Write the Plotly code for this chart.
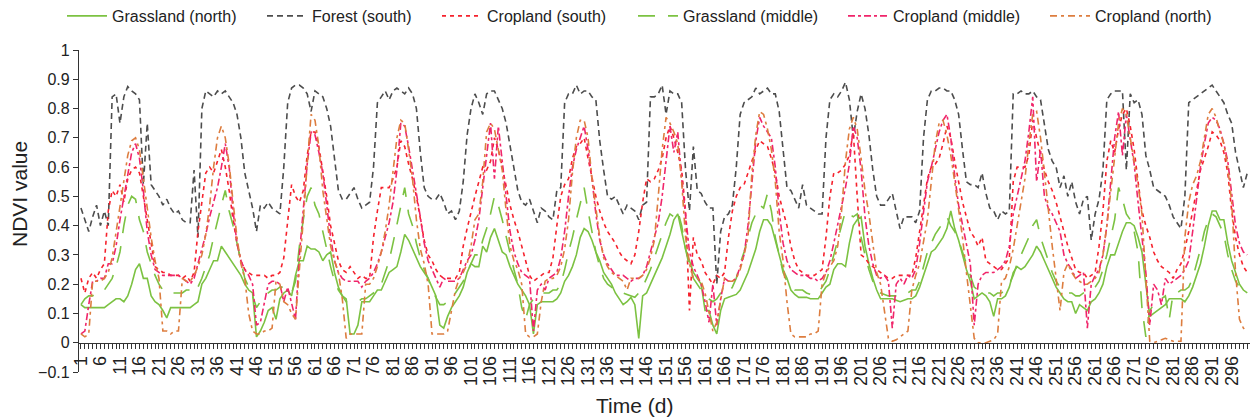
import plotly.graph_objects as go

forest_south = [
    0.46, 0.42, 0.38, 0.43, 0.47, 0.40, 0.45, 0.40, 0.84, 0.85,
    0.75, 0.84, 0.875, 0.86, 0.85, 0.83, 0.54, 0.75, 0.54, 0.52,
    0.50, 0.47, 0.49, 0.46, 0.44, 0.45, 0.42, 0.41, 0.41, 0.59,
    0.36, 0.80, 0.86, 0.85, 0.84, 0.86, 0.85, 0.86, 0.84, 0.82,
    0.78, 0.70, 0.58, 0.52, 0.46, 0.38, 0.47, 0.46, 0.48, 0.46,
    0.45, 0.44, 0.60, 0.82, 0.87, 0.88, 0.88, 0.87, 0.85, 0.79,
    0.86, 0.85, 0.84, 0.80, 0.74, 0.63, 0.52, 0.49, 0.49, 0.51,
    0.53, 0.49, 0.46, 0.47, 0.48, 0.60, 0.82, 0.84, 0.86, 0.83,
    0.86, 0.87, 0.86, 0.85, 0.87, 0.85, 0.80, 0.65, 0.53, 0.50,
    0.49, 0.49, 0.51, 0.48, 0.44, 0.45, 0.42, 0.45, 0.55, 0.71,
    0.80, 0.85, 0.82, 0.78, 0.85, 0.86, 0.86, 0.83, 0.80, 0.75,
    0.67, 0.59, 0.52, 0.48, 0.47, 0.49, 0.45, 0.41, 0.46, 0.45,
    0.43, 0.42, 0.52, 0.53, 0.82, 0.85, 0.85, 0.88, 0.85, 0.86,
    0.86, 0.84, 0.83, 0.69, 0.59, 0.50, 0.49, 0.50, 0.47, 0.44,
    0.47, 0.46, 0.45, 0.42, 0.47, 0.48, 0.84, 0.84, 0.85, 0.88,
    0.78, 0.86, 0.85, 0.85, 0.82, 0.59, 0.45, 0.67, 0.52, 0.51,
    0.48, 0.46, 0.46, 0.20, 0.38, 0.43, 0.44, 0.47, 0.60, 0.78,
    0.82, 0.83, 0.84, 0.87, 0.85, 0.86, 0.87, 0.85, 0.85, 0.79,
    0.67, 0.53, 0.52, 0.49, 0.46, 0.54, 0.47, 0.46, 0.45, 0.44,
    0.44, 0.70, 0.83, 0.85, 0.84, 0.86, 0.89, 0.83, 0.70, 0.79,
    0.85, 0.80, 0.71, 0.59, 0.50, 0.47, 0.47, 0.49, 0.51, 0.45,
    0.39, 0.43, 0.43, 0.43, 0.41, 0.45, 0.70, 0.83, 0.86, 0.86,
    0.87, 0.87, 0.86, 0.86, 0.83, 0.78, 0.66, 0.55, 0.54, 0.54,
    0.53, 0.58, 0.51, 0.46, 0.45, 0.42, 0.45, 0.44, 0.45, 0.85,
    0.85, 0.86, 0.85, 0.85, 0.86, 0.84, 0.83, 0.75, 0.66, 0.62,
    0.60, 0.53, 0.57, 0.50, 0.55, 0.48, 0.44, 0.49, 0.50, 0.35,
    0.44, 0.49, 0.59, 0.83, 0.85, 0.86, 0.86, 0.86, 0.59, 0.85,
    0.82, 0.83, 0.78, 0.64, 0.59, 0.53, 0.52, 0.51, 0.50, 0.47,
    0.43, 0.41, 0.39, 0.50, 0.82, 0.83, 0.84, 0.85, 0.86, 0.87,
    0.88, 0.86, 0.84, 0.82, 0.78, 0.75, 0.65, 0.59, 0.53, 0.58,
]

grassland_north = [
    0.13, 0.12, 0.12, 0.12, 0.12, 0.12, 0.12, 0.13, 0.14, 0.15,
    0.15, 0.14, 0.16, 0.20, 0.25, 0.27, 0.22, 0.22, 0.16, 0.14,
    0.13, 0.11, 0.085, 0.12, 0.12, 0.12, 0.12, 0.12, 0.12, 0.13,
    0.14, 0.20, 0.22, 0.25, 0.28, 0.28, 0.33, 0.31, 0.29, 0.27,
    0.25, 0.23, 0.20, 0.18, 0.17, 0.02, 0.04, 0.07, 0.11, 0.12,
    0.08, 0.15, 0.17, 0.18, 0.16, 0.23, 0.28, 0.28, 0.33, 0.32,
    0.32, 0.31, 0.28, 0.30, 0.31, 0.24, 0.19, 0.16, 0.15, 0.03,
    0.03, 0.06, 0.14, 0.14, 0.14, 0.16, 0.18, 0.18, 0.21, 0.24,
    0.25, 0.26, 0.31, 0.37, 0.35, 0.32, 0.29, 0.26, 0.24, 0.22,
    0.19, 0.16, 0.06, 0.05, 0.09, 0.12, 0.14, 0.16, 0.19, 0.24,
    0.27, 0.26, 0.26, 0.33, 0.31, 0.36, 0.39, 0.35, 0.31, 0.30,
    0.26, 0.23, 0.20, 0.18, 0.16, 0.13, 0.03, 0.13, 0.14, 0.14,
    0.14, 0.14, 0.15, 0.17, 0.21, 0.23, 0.26, 0.30, 0.36, 0.39,
    0.38, 0.35, 0.31, 0.28, 0.24, 0.22, 0.20, 0.17, 0.15, 0.13,
    0.14, 0.155, 0.13, 0.015, 0.16, 0.17, 0.20, 0.23, 0.26, 0.29,
    0.33, 0.37, 0.42, 0.44, 0.38, 0.32, 0.28, 0.24, 0.22, 0.20,
    0.11, 0.11, 0.06, 0.03, 0.11, 0.15, 0.155, 0.16, 0.165, 0.18,
    0.21, 0.24, 0.28, 0.32, 0.38, 0.42, 0.42, 0.40, 0.35, 0.30,
    0.25, 0.22, 0.18, 0.165, 0.155, 0.155, 0.155, 0.15, 0.15, 0.15,
    0.17, 0.19, 0.20, 0.25, 0.27, 0.27, 0.26, 0.34, 0.40, 0.42,
    0.43, 0.33, 0.27, 0.22, 0.18, 0.15, 0.15, 0.15, 0.15, 0.145,
    0.14, 0.145, 0.15, 0.15, 0.16, 0.19, 0.23, 0.27, 0.31, 0.32,
    0.34, 0.36, 0.39, 0.45, 0.39, 0.35, 0.30, 0.25, 0.21, 0.15,
    0.16, 0.17, 0.16, 0.14, 0.09, 0.15, 0.15, 0.16, 0.19, 0.24,
    0.26, 0.25, 0.26, 0.28, 0.30, 0.33, 0.31, 0.28, 0.25, 0.22,
    0.19, 0.17, 0.15, 0.14, 0.14, 0.10, 0.13, 0.12, 0.11, 0.14,
    0.15, 0.17, 0.20, 0.26, 0.30, 0.30, 0.34, 0.38, 0.41, 0.41,
    0.40, 0.36, 0.31, 0.20, 0.09, 0.10, 0.11, 0.12, 0.13, 0.15,
    0.15, 0.15, 0.15, 0.14, 0.16, 0.19, 0.23, 0.27, 0.33, 0.40,
    0.45, 0.45, 0.42, 0.42, 0.34, 0.28, 0.24, 0.20, 0.18, 0.17,
]

grassland_middle = [
    0.13, 0.15, 0.16, 0.16, 0.17, 0.18, 0.18, 0.20, 0.22, 0.26,
    0.31, 0.40, 0.47, 0.50, 0.49, 0.42, 0.38, 0.31, 0.27, 0.23,
    0.20, 0.18, 0.17, 0.17, 0.17, 0.17, 0.17, 0.18, 0.18, 0.17,
    0.19, 0.22, 0.26, 0.30, 0.36, 0.42, 0.47, 0.52, 0.45, 0.40,
    0.34, 0.27, 0.22, 0.19, 0.16, 0.12, 0.14, 0.16, 0.17, 0.18,
    0.18, 0.19, 0.19, 0.18, 0.17, 0.21, 0.33, 0.42, 0.50, 0.53,
    0.47, 0.44, 0.38, 0.31, 0.26, 0.21, 0.18, 0.16, 0.14, 0.14,
    0.14, 0.14, 0.15, 0.15, 0.16, 0.17, 0.18, 0.20, 0.24, 0.28,
    0.34, 0.40, 0.46, 0.53, 0.44, 0.40, 0.34, 0.29, 0.25, 0.22,
    0.18, 0.155, 0.13, 0.13, 0.14, 0.15, 0.17, 0.19, 0.21, 0.24,
    0.27, 0.30, 0.30, 0.35, 0.39, 0.44, 0.50, 0.47, 0.42, 0.36,
    0.30, 0.25, 0.20, 0.12, 0.08, 0.13, 0.15, 0.16, 0.17, 0.17,
    0.17, 0.18, 0.18, 0.20, 0.25, 0.31, 0.36, 0.42, 0.48, 0.53,
    0.45, 0.38, 0.31, 0.26, 0.22, 0.20, 0.19, 0.18, 0.18, 0.17,
    0.165, 0.16, 0.155, 0.17, 0.19, 0.22, 0.25, 0.29, 0.33, 0.37,
    0.41, 0.44, 0.43, 0.45, 0.40, 0.32, 0.26, 0.22, 0.20, 0.18,
    0.17, 0.15, 0.14, 0.15, 0.17, 0.17, 0.17, 0.19, 0.22, 0.27,
    0.31, 0.36, 0.41, 0.44, 0.47, 0.46, 0.51, 0.45, 0.36, 0.30,
    0.24, 0.21, 0.19, 0.18, 0.18, 0.18, 0.17, 0.165, 0.165, 0.17,
    0.19, 0.21, 0.25, 0.30, 0.35, 0.40, 0.45, 0.44, 0.43, 0.44,
    0.36, 0.30, 0.25, 0.21, 0.18, 0.17, 0.165, 0.16, 0.16, 0.16,
    0.16, 0.17, 0.17, 0.18, 0.18, 0.21, 0.26, 0.31, 0.34, 0.37,
    0.39, 0.41, 0.43, 0.40, 0.38, 0.35, 0.31, 0.27, 0.23, 0.19,
    0.18, 0.17, 0.17, 0.17, 0.16, 0.17, 0.17, 0.18, 0.20, 0.23,
    0.27, 0.30, 0.33, 0.36, 0.40, 0.42, 0.36, 0.32, 0.28, 0.24,
    0.21, 0.19, 0.18, 0.17, 0.17, 0.16, 0.16, 0.17, 0.17, 0.18,
    0.19, 0.21, 0.25, 0.30, 0.36, 0.42, 0.53, 0.49, 0.44, 0.42,
    0.38, 0.31, 0.12, 0.02, 0.11, 0.13, 0.14, 0.15, 0.16, 0.08,
    0.17, 0.17, 0.18, 0.18, 0.19, 0.22, 0.27, 0.32, 0.38, 0.42,
    0.44, 0.43, 0.40, 0.37, 0.30, 0.25, 0.21, 0.19, 0.18, 0.17,
]

cropland_south = [
    0.22, 0.17, 0.22, 0.24, 0.22, 0.25, 0.27, 0.45, 0.52, 0.50,
    0.54, 0.48, 0.56, 0.59, 0.60, 0.58, 0.50, 0.42, 0.33, 0.26,
    0.25, 0.24, 0.24, 0.23, 0.23, 0.23, 0.22, 0.23, 0.21, 0.24,
    0.38, 0.48, 0.58, 0.60, 0.58, 0.62, 0.66, 0.60, 0.52, 0.42,
    0.34, 0.28, 0.25, 0.24, 0.23, 0.23, 0.23, 0.23, 0.22, 0.23,
    0.23, 0.24, 0.29, 0.42, 0.54, 0.50, 0.48, 0.52, 0.64, 0.72,
    0.72, 0.67, 0.59, 0.50, 0.40, 0.34, 0.28, 0.25, 0.24, 0.26,
    0.24, 0.22, 0.23, 0.22, 0.22, 0.36, 0.45, 0.53, 0.53, 0.53,
    0.56, 0.60, 0.69, 0.67, 0.61, 0.56, 0.50, 0.43, 0.35, 0.30,
    0.28, 0.25, 0.23, 0.22, 0.22, 0.22, 0.22, 0.24, 0.33, 0.39,
    0.45, 0.50, 0.55, 0.60, 0.59, 0.62, 0.70, 0.66, 0.60, 0.53,
    0.47, 0.42, 0.38, 0.33, 0.28, 0.23, 0.21, 0.22, 0.23, 0.24,
    0.24, 0.29, 0.40, 0.50, 0.54, 0.56, 0.63, 0.67, 0.68, 0.70,
    0.63, 0.56, 0.50, 0.45, 0.41, 0.38, 0.36, 0.34, 0.31, 0.29,
    0.28, 0.27, 0.30, 0.38, 0.48, 0.56, 0.55, 0.56, 0.59, 0.63,
    0.70, 0.74, 0.70, 0.65, 0.59, 0.45, 0.11, 0.36, 0.30, 0.28,
    0.24, 0.22, 0.20, 0.23, 0.22, 0.24, 0.36, 0.45, 0.50, 0.53,
    0.54, 0.58, 0.62, 0.66, 0.69, 0.68, 0.67, 0.63, 0.58, 0.50,
    0.45, 0.40, 0.33, 0.28, 0.25, 0.24, 0.23, 0.23, 0.23, 0.24,
    0.25, 0.36, 0.50, 0.58, 0.58, 0.59, 0.61, 0.64, 0.72, 0.50,
    0.30, 0.29, 0.27, 0.26, 0.25, 0.24, 0.23, 0.22, 0.22, 0.23,
    0.23, 0.23, 0.23, 0.23, 0.29, 0.38, 0.47, 0.56, 0.60, 0.61,
    0.63, 0.68, 0.74, 0.70, 0.62, 0.55, 0.48, 0.43, 0.38, 0.36,
    0.33, 0.36, 0.28, 0.27, 0.26, 0.25, 0.25, 0.27, 0.29, 0.55,
    0.60, 0.60, 0.60, 0.64, 0.76, 0.70, 0.64, 0.59, 0.55, 0.52,
    0.48, 0.43, 0.38, 0.33, 0.29, 0.25, 0.24, 0.24, 0.22, 0.23,
    0.24, 0.33, 0.45, 0.62, 0.69, 0.65, 0.73, 0.78, 0.80, 0.74,
    0.66, 0.55, 0.45, 0.40, 0.36, 0.31, 0.28, 0.26, 0.25, 0.24,
    0.22, 0.25, 0.27, 0.32, 0.38, 0.45, 0.52, 0.59, 0.63, 0.67,
    0.72, 0.71, 0.69, 0.65, 0.58, 0.45, 0.36, 0.30, 0.26, 0.24,
]

cropland_middle = [
    0.03, 0.04, 0.13, 0.21, 0.21, 0.22, 0.22, 0.27, 0.27, 0.33,
    0.42, 0.50, 0.58, 0.65, 0.68, 0.63, 0.52, 0.38, 0.30, 0.25,
    0.24, 0.23, 0.23, 0.23, 0.23, 0.23, 0.22, 0.21, 0.20, 0.22,
    0.27, 0.32, 0.37, 0.43, 0.48, 0.53, 0.60, 0.68, 0.60, 0.45,
    0.34, 0.28, 0.25, 0.23, 0.20, 0.06, 0.07, 0.14, 0.20, 0.21,
    0.21, 0.20, 0.14, 0.19, 0.13, 0.08, 0.30, 0.45, 0.61, 0.72,
    0.71, 0.65, 0.58, 0.47, 0.36, 0.28, 0.24, 0.22, 0.21, 0.21,
    0.21, 0.21, 0.19, 0.21, 0.22, 0.24, 0.27, 0.31, 0.36, 0.41,
    0.48, 0.59, 0.75, 0.74, 0.67, 0.59, 0.52, 0.43, 0.34, 0.28,
    0.25, 0.22, 0.19, 0.22, 0.21, 0.21, 0.21, 0.22, 0.25, 0.28,
    0.30, 0.35, 0.42, 0.53, 0.66, 0.75, 0.56, 0.74, 0.62, 0.50,
    0.38, 0.31, 0.27, 0.24, 0.23, 0.22, 0.04, 0.18, 0.20, 0.18,
    0.22, 0.23, 0.24, 0.29, 0.38, 0.50, 0.60, 0.66, 0.70, 0.74,
    0.66, 0.56, 0.44, 0.35, 0.30, 0.27, 0.25, 0.23, 0.23, 0.23,
    0.22, 0.21, 0.22, 0.22, 0.23, 0.26, 0.31, 0.36, 0.41, 0.50,
    0.62, 0.74, 0.65, 0.72, 0.56, 0.44, 0.31, 0.26, 0.23, 0.20,
    0.14, 0.07, 0.20, 0.06, 0.15, 0.22, 0.21, 0.21, 0.22, 0.26,
    0.30, 0.40, 0.55, 0.69, 0.77, 0.74, 0.72, 0.70, 0.60, 0.45,
    0.34, 0.28, 0.25, 0.24, 0.23, 0.23, 0.23, 0.22, 0.22, 0.21,
    0.22, 0.24, 0.28, 0.34, 0.40, 0.46, 0.53, 0.61, 0.74, 0.70,
    0.59, 0.43, 0.33, 0.27, 0.23, 0.22, 0.23, 0.21, 0.05, 0.20,
    0.22, 0.20, 0.23, 0.22, 0.25, 0.34, 0.45, 0.55, 0.60, 0.66,
    0.72, 0.76, 0.78, 0.70, 0.57, 0.47, 0.40, 0.34, 0.27, 0.06,
    0.20, 0.23, 0.24, 0.24, 0.24, 0.25, 0.26, 0.28, 0.33, 0.44,
    0.50, 0.55, 0.62, 0.72, 0.84, 0.55, 0.66, 0.50, 0.46, 0.44,
    0.41, 0.38, 0.30, 0.27, 0.25, 0.22, 0.23, 0.24, 0.05, 0.20,
    0.23, 0.25, 0.30, 0.40, 0.55, 0.70, 0.79, 0.64, 0.78, 0.70,
    0.61, 0.48, 0.35, 0.24, 0.06, 0.20, 0.18, 0.13, 0.22, 0.20,
    0.21, 0.22, 0.23, 0.25, 0.28, 0.38, 0.50, 0.60, 0.68, 0.75,
    0.77, 0.76, 0.73, 0.68, 0.62, 0.50, 0.40, 0.34, 0.31, 0.30,
]

cropland_north = [
    0.03, 0.02, 0.03, 0.21, 0.21, 0.21, 0.22, 0.24, 0.29, 0.38,
    0.47, 0.56, 0.64, 0.69, 0.70, 0.66, 0.56, 0.45, 0.36, 0.28,
    0.22, 0.04, 0.04, 0.03, 0.04, 0.04, 0.22, 0.21, 0.21, 0.23,
    0.26, 0.30, 0.37, 0.47, 0.60, 0.70, 0.74, 0.70, 0.61, 0.48,
    0.36, 0.27, 0.22, 0.10, 0.04, 0.03, 0.03, 0.04, 0.04, 0.05,
    0.21, 0.20, 0.14, 0.13, 0.10, 0.08, 0.24, 0.42, 0.61, 0.78,
    0.76, 0.67, 0.52, 0.42, 0.33, 0.28, 0.24, 0.15, 0.015, 0.03,
    0.03, 0.03, 0.03, 0.20, 0.20, 0.22, 0.26, 0.31, 0.38, 0.47,
    0.58, 0.70, 0.76, 0.75, 0.66, 0.56, 0.42, 0.32, 0.27, 0.20,
    0.03, 0.03, 0.03, 0.03, 0.04, 0.11, 0.18, 0.22, 0.24, 0.27,
    0.33, 0.42, 0.44, 0.55, 0.72, 0.75, 0.73, 0.66, 0.59, 0.45,
    0.33, 0.28, 0.25, 0.20, 0.03, 0.02, 0.02, 0.03, 0.14, 0.21,
    0.22, 0.22, 0.23, 0.26, 0.32, 0.42, 0.58, 0.70, 0.76, 0.76,
    0.70, 0.56, 0.45, 0.36, 0.29, 0.26, 0.24, 0.23, 0.22, 0.21,
    0.18, 0.22, 0.22, 0.22, 0.23, 0.25, 0.29, 0.35, 0.50, 0.66,
    0.77, 0.75, 0.72, 0.68, 0.55, 0.36, 0.27, 0.22, 0.22, 0.21,
    0.17, 0.10, 0.04, 0.07, 0.15, 0.22, 0.21, 0.21, 0.22, 0.25,
    0.30, 0.36, 0.58, 0.71, 0.79, 0.78, 0.73, 0.66, 0.55, 0.38,
    0.28, 0.14, 0.03, 0.02, 0.02, 0.02, 0.02, 0.03, 0.03, 0.04,
    0.20, 0.24, 0.26, 0.28, 0.33, 0.45, 0.62, 0.73, 0.77, 0.73,
    0.63, 0.52, 0.44, 0.33, 0.24, 0.20, 0.11, 0.015, 0.005, 0.01,
    0.02, 0.03, 0.04, 0.18, 0.23, 0.27, 0.34, 0.42, 0.55, 0.68,
    0.75, 0.76, 0.71, 0.64, 0.55, 0.45, 0.36, 0.24, 0.13, 0.015,
    0.0, 0.0, 0.0, 0.005, 0.01, 0.03, 0.21, 0.22, 0.26, 0.32,
    0.40, 0.47, 0.56, 0.68, 0.78, 0.79, 0.70, 0.58, 0.45, 0.33,
    0.22, 0.11, 0.24, 0.27, 0.24, 0.22, 0.21, 0.20, 0.20, 0.21,
    0.22, 0.24, 0.30, 0.40, 0.52, 0.65, 0.75, 0.80, 0.78, 0.70,
    0.62, 0.54, 0.44, 0.24, 0.005, 0.0, 0.005, 0.01, 0.015, 0.01,
    0.005, 0.005, 0.005, 0.36, 0.48, 0.54, 0.57, 0.62, 0.70, 0.78,
    0.80, 0.77, 0.72, 0.68, 0.60, 0.48, 0.24, 0.08, 0.05, 0.04,
]

series_names = ["Grassland (north)", "Forest (south)", "Cropland (south)",
                "Grassland (middle)", "Cropland (middle)", "Cropland (north)"]
series_values = [grassland_north, forest_south, cropland_south,
                 grassland_middle, cropland_middle, cropland_north]
series_colors = ["#7cc242", "#4d4d4d", "#f5222d", "#7cc242", "#f0256a", "#dd7d3f"]
series_dash = ["solid", "6px,4px", "4px,4px", "17px,13px", "7px,3px,3px,3px", "7px,4px,3px,4px"]
legend_x_px = [62, 262, 437, 633, 843, 1045]

FONT = "Liberation Sans, Arial, sans-serif"
W, H = 1251, 420

fig = go.Figure()
for i, (name, vals) in enumerate(zip(series_names, series_values)):
    lg = "legend" if i == 0 else f"legend{i+1}"
    fig.add_trace(go.Scatter(
        x=list(range(1, len(vals) + 1)), y=vals, mode="lines", name=name,
        line=dict(color=series_colors[i], width=1.6, dash=series_dash[i]),
        legend=lg,
    ))

layout_legends = {}
for i, px in enumerate(legend_x_px):
    key = "legend" if i == 0 else f"legend{i+1}"
    layout_legends[key] = dict(
        xref="container", yref="container", x=px / W, y=1 - 16 / H,
        xanchor="left", yanchor="middle", orientation="h",
        font=dict(family=FONT, size=16, color="#222"),
        bgcolor="rgba(0,0,0,0)", borderwidth=0, itemwidth=40,
    )

fig.update_layout(
    width=W, height=H,
    margin=dict(l=79, r=1, t=50, b=48),
    plot_bgcolor="white", paper_bgcolor="white",
    font=dict(family=FONT, size=16, color="#222"),
    showlegend=True,
    **layout_legends,
)

fig.update_yaxes(
    range=[-0.1, 1.0], tick0=0, dtick=0.1, showgrid=False, zeroline=False,
    showline=True, linecolor="#333", linewidth=1.2,
    ticks="outside", ticklen=5, tickwidth=1.2, tickcolor="#333",
    tickfont=dict(family=FONT, size=16, color="#222"),
)

fig.update_xaxes(
    range=[0.5, 300.7], anchor="free", position=0.1 / 1.1,
    tick0=1, dtick=5, tickangle=-90, showgrid=False, zeroline=False,
    showline=True, linecolor="#333", linewidth=1.2,
    ticks="outside", ticklen=5, tickwidth=1, tickcolor="#333",
    minor=dict(dtick=1, tick0=1, ticklen=5, tickwidth=1, tickcolor="#333", ticks="outside"),
    tickfont=dict(family=FONT, size=18, color="#222"),
)

fig.add_annotation(text="NDVI value", xref="paper", yref="paper",
                   x=(19 - 79) / 1171, y=(372 - 194) / 322, textangle=-90,
                   showarrow=False, xanchor="center", yanchor="middle",
                   font=dict(family=FONT, size=21, color="#222"))
fig.add_annotation(text="Time (d)", xref="paper", yref="paper",
                   x=(634 - 79) / 1171, y=(372 - 405) / 322, showarrow=False,
                   yanchor="middle", xanchor="center",
                   font=dict(family=FONT, size=21, color="#222"))

fig.write_html("out.html")
